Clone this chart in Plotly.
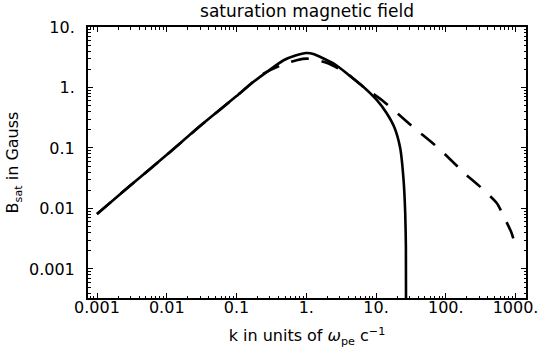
import plotly.graph_objects as go

# k (units of omega_pe / c) and saturation field B_sat (Gauss)
k_solid = [0.001, 0.003, 0.01, 0.03, 0.1, 0.158, 0.273, 0.473, 0.7, 1.0, 1.3, 1.77, 2.6,
           3.83, 6.62, 10.3, 14.3, 18.3, 22.2, 24.8, 26.2, 26.8, 27.1]
b_solid = [0.0081, 0.024, 0.077, 0.23, 0.72, 1.13, 1.81, 2.82, 3.38, 3.72, 3.55, 3.01, 2.4,
           1.70, 1.02, 0.616, 0.372, 0.22, 0.1, 0.03, 0.0085, 0.0023, 0.00001]

k_dash = [0.001, 0.003, 0.01, 0.03, 0.1, 0.158, 0.245, 0.5, 0.75, 1.0, 1.4, 2.09, 3.83,
          6.62, 12.1, 21.0, 36.0, 65.0, 107.0, 186.0, 309.0, 537.0, 741.0, 880.0, 977.0]
b_dash = [0.0081, 0.024, 0.077, 0.23, 0.72, 1.13, 1.7, 2.49, 2.85, 3.0, 2.85, 2.49, 1.70,
          1.02, 0.62, 0.36, 0.21, 0.12, 0.071, 0.038, 0.023, 0.0123, 0.006, 0.0039, 0.0026]

x_tickvals = [0.001, 0.01, 0.1, 1, 10, 100, 1000]
x_ticktext = ["0.001", "0.01", "0.1", "1.", "10.", "100.", "1000."]
y_tickvals = [0.001, 0.01, 0.1, 1, 10]
y_ticktext = ["0.001", "0.01", "0.1", "1.", "10."]

font = "DejaVu Sans, sans-serif"

# minor ticks at 2..9 of every decade
x_minor = [m * d for d in [0.0001, 0.001, 0.01, 0.1, 1, 10, 100, 1000] for m in range(2, 10)]
y_minor = [m * d for d in [0.0001, 0.001, 0.01, 0.1, 1] for m in range(2, 10)]

fig = go.Figure()

fig.add_trace(go.Scatter(
    x=k_solid, y=b_solid, mode="lines",
    line=dict(color="black", width=2.6, shape="spline", smoothing=0.6),
    showlegend=False, hoverinfo="skip",
))

fig.add_trace(go.Scatter(
    x=k_dash, y=b_dash, mode="lines",
    line=dict(color="black", width=2.6, dash="18px,13px", shape="spline", smoothing=0.6),
    showlegend=False, hoverinfo="skip",
))

axis_common = dict(
    type="log", automargin=False,
    showgrid=False, zeroline=False,
    showline=True, linecolor="black", linewidth=2, mirror="ticks",
    ticks="inside", ticklen=5, tickwidth=1, tickcolor="black",
    tickfont=dict(family=font, size=16, color="black"),
)

fig.update_xaxes(
    **axis_common,
    range=[-3.129, 3.15],
    tickmode="array", tickvals=x_tickvals, ticktext=x_ticktext,
    ticklabelstandoff=-6,
    minor=dict(tickmode="array", tickvals=x_minor, ticks="inside", ticklen=2.5,
               tickwidth=1, tickcolor="black", showgrid=False),
    title=dict(text="k in units of <i>ω</i><sub>pe</sub> c<sup>−1</sup>",
               font=dict(family=font, size=16, color="black"), standoff=14),
)
fig.update_yaxes(
    **axis_common,
    range=[-3.48, 1.0],
    tickmode="array", tickvals=y_tickvals, ticktext=y_ticktext,
    ticklabelstandoff=8,
    minor=dict(tickmode="array", tickvals=y_minor, ticks="inside", ticklen=2.5,
               tickwidth=1, tickcolor="black", showgrid=False),
    title=dict(text="B<sub>sat</sub> in Gauss",
               font=dict(family=font, size=16, color="black"), standoff=6),
)

fig.update_layout(
    width=540, height=354,
    margin=dict(l=88, r=14, t=27, b=56),
    paper_bgcolor="white", plot_bgcolor="white",
    title=dict(text="saturation magnetic field", x=0.5686, xanchor="center",
               y=0.97, yanchor="middle", automargin=False,
               font=dict(family=font, size=17, color="black")),
)

# drop the browser's default body margin so the figure sits at the page corner
fig.write_html("out.html", config={"displayModeBar": False},
               post_script="document.body.style.margin='0';")
